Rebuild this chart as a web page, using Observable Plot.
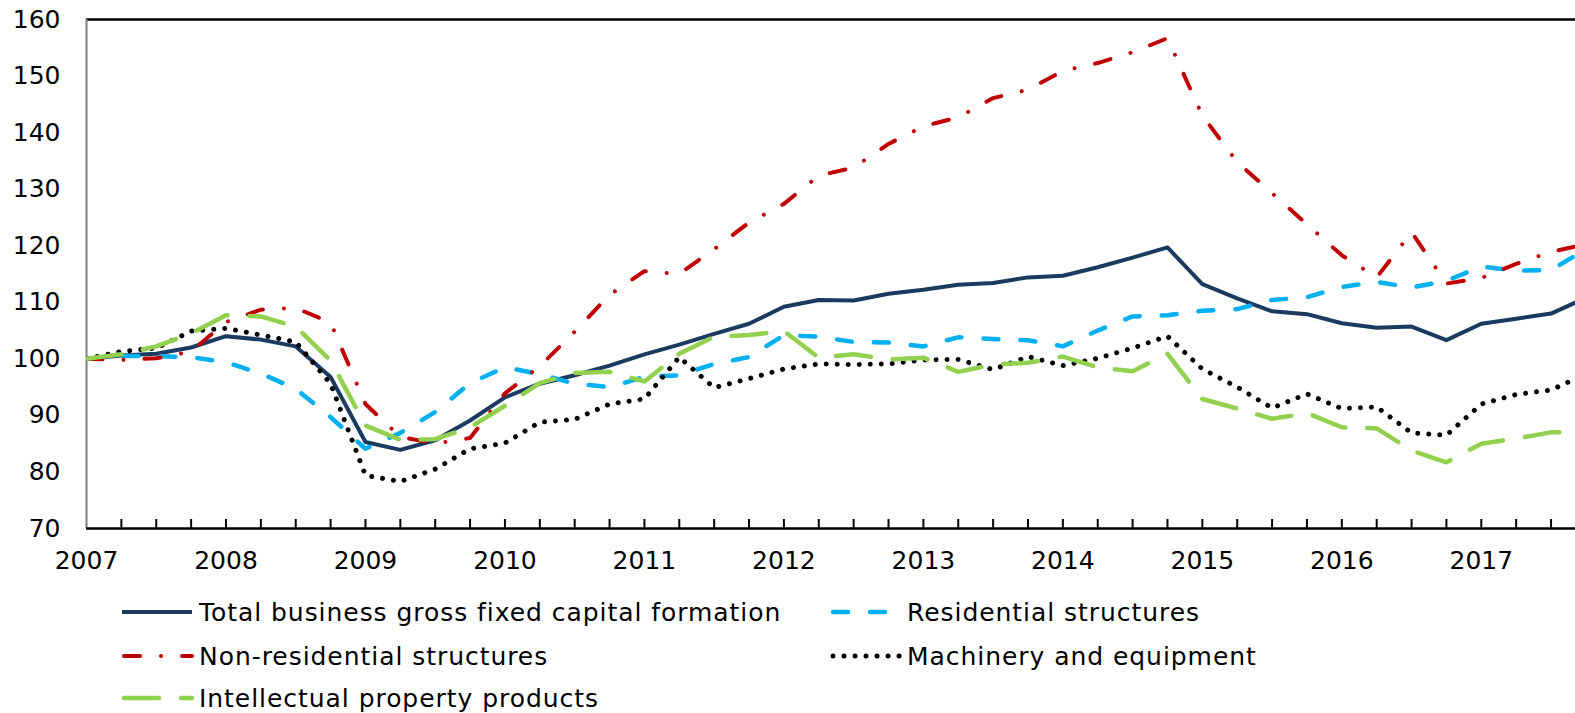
<!DOCTYPE html>
<html><head><meta charset="utf-8">
<script src="https://cdn.jsdelivr.net/npm/d3@7"></script>
<script src="https://cdn.jsdelivr.net/npm/@observablehq/plot@0.6"></script>
<style>
body{margin:0;background:#fff;font-family:"DejaVu Sans",Verdana,sans-serif;}
#wrap{position:relative;width:1575px;height:713px;overflow:hidden;background:#fff}
.leg{position:absolute;height:34px;display:flex;align-items:center;font-size:25px;letter-spacing:0.95px;color:#000;white-space:nowrap}
.leg svg{position:absolute;top:12px}
.leg span{position:absolute}
</style></head><body>
<div id="wrap"><div id="chart"></div><div id="legend"></div></div>
<script>
// Quarterly index, 2007Q1 = 100
const startYear = 2007;
const yearTicks = [2007,2008,2009,2010,2011,2012,2013,2014,2015,2016,2017];
const yTicks = [70,80,90,100,110,120,130,140,150,160];
const seriesNames = ["Total business gross fixed capital formation","Residential structures","Non-residential structures","Machinery and equipment","Intellectual property products"];
const total = [100,100.6,100.9,102.0,104.0,103.4,102.2,96.8,85.3,83.9,85.6,89.1,93.2,95.6,97.1,98.8,100.8,102.5,104.4,106.2,109.2,110.4,110.3,111.5,112.2,113.1,113.4,114.4,114.7,116.2,117.9,119.7,113.2,110.7,108.4,107.9,106.3,105.5,105.7,103.3,106.2,107.1,108.0,110.8];
const residential = [100,100.5,100.5,100.3,99.4,97.4,94.7,89.7,84.1,86.9,90.6,95.7,98.5,97.3,95.6,95.0,96.8,97.1,99.1,100.3,104.2,103.9,103.0,102.9,102.2,103.8,103.5,103.3,102.2,105.0,107.5,107.7,108.5,108.8,110.4,110.9,112.7,113.6,112.6,113.8,116.3,115.6,115.7,119.4];
const nonResidential = [100,99.8,100.1,101.3,106.5,108.7,109.0,106.4,92.0,86.2,85.0,86.0,93.9,98.7,104.8,111.3,115.5,115.0,119.4,124.1,127.4,132.4,133.8,138.0,141.1,142.7,146.1,147.6,150.9,152.3,154.2,156.7,143.0,134.8,129.3,123.8,118.3,114.4,122.4,113.3,114.3,116.8,118.9,120.3];
const machinery = [100,101.3,101.9,104.9,105.4,104.2,103.0,95.6,79.4,78.3,80.5,84.1,85.1,88.8,89.3,92.0,92.9,100.3,94.9,96.5,98.2,99.1,99.0,99.1,99.8,99.9,98.1,100.4,98.8,100.1,101.9,104.0,98.2,95.0,91.3,93.8,91.2,91.5,86.9,86.5,92.0,93.7,94.5,97.3];
const intellectual = [100,100.8,102.2,104.5,107.7,107.5,105.7,99.7,88.2,85.7,85.8,87.9,91.7,95.7,97.5,97.7,96.0,100.9,103.9,104.2,104.9,100.2,100.8,99.9,100.2,97.7,99.0,99.3,100.4,98.5,97.8,100.9,92.9,91.2,89.4,90.4,87.9,87.7,83.8,81.7,85.0,85.9,87.0,87.0];

const seriesValues = [total, residential, nonResidential, machinery, intellectual];
const colors = ["#1B3A60","#00B0F0","#C00000","#000000","#92D050"];
const dashes = [null,"15 22","16 21 0.01 21","0.01 11","35 22"];
const widths = [4,4.5,4,5,4.5];

const W = 1575, H = 580;
const marginLeft = 86, marginTop = 19, marginBottom = 52, marginRight = 0;
const yearPx = 139.48;
const xMax = startYear + (W - marginLeft - marginRight) / yearPx;
const quarterTicks = d3.range(1, 43).map(i => startYear + i / 4);

const lineMarks = seriesValues.map((vals, s) => {
  const data = vals.map((v, i) => ({x: startYear + i / 4, y: v}));
  return Plot.line(data, {
    x: "x", y: "y", stroke: colors[s], strokeWidth: widths[s],
    strokeDasharray: dashes[s] || undefined,
    strokeLinecap: s === 0 ? "butt" : "round", strokeLinejoin: "round",
    clip: true
  });
});

const chart = Plot.plot({
  width: W, height: H,
  marginLeft, marginTop, marginBottom, marginRight,
  style: {fontFamily: "'DejaVu Sans', Verdana, sans-serif", fontSize: "25px", color: "#000", background: "#fff"},
  x: {domain: [startYear, xMax], axis: null},
  y: {domain: [70, 160], axis: null},
  marks: [
    Plot.ruleY([160], {stroke: "#000", strokeWidth: 2.5}),
    Plot.ruleX([startYear], {stroke: "#808080", strokeWidth: 2}),
    ...lineMarks,
    Plot.ruleX(quarterTicks, {x: d => d, stroke: "#000", strokeWidth: 2, insetTop: (H - marginTop - marginBottom) - 9}),
    Plot.ruleY([70], {stroke: "#000", strokeWidth: 2.5}),
    Plot.axisY({ticks: yTicks, tickSize: 0, tickPadding: 26, label: null, fontSize: 25, fill: "#000"}),
    Plot.axisX({ticks: yearTicks, tickFormat: d => String(d), tickSize: 0, tickPadding: 23, label: null, fontSize: 25, fill: "#000"})
  ]
});
document.getElementById("chart").appendChild(chart);

// Legend (HTML below the SVG)
const legendPos = [
  {left: 122, text: 199, top: 595},
  {left: 831, text: 907, top: 595},
  {left: 122, text: 199, top: 639},
  {left: 831, text: 907, top: 639},
  {left: 122, text: 199, top: 681}
];
const legendSwatchOffset = [0, 2, 2, 2, 2];
const legend = document.getElementById("legend");
seriesNames.forEach((name, s) => {
  const p = legendPos[s];
  const div = document.createElement("div");
  div.className = "leg";
  div.style.left = "0px";
  div.style.top = p.top + "px";
  div.style.width = "1575px";
  const sw = 72;
  const off = legendSwatchOffset[s];
  div.innerHTML = `<svg width="${sw + 4}" height="10" style="left:${p.left - 2}px"><line x1="${2 + off}" x2="${sw}" y1="5" y2="5" stroke="${colors[s]}" stroke-width="${widths[s]}" stroke-linecap="${s === 0 ? "butt" : "round"}" ${dashes[s] ? `stroke-dasharray="${dashes[s]}"` : ""}/></svg><span style="left:${p.text}px">${name}</span>`;
  legend.appendChild(div);
});
</script>
</body></html>
